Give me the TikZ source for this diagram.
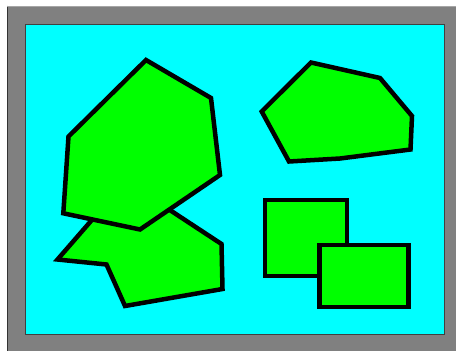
\documentclass[tikz,border=0pt]{standalone}
\begin{document}
\begin{tikzpicture}[x=1pt,y=-1pt,
  greenpoly/.style={fill=shapegreen,draw=black,line width=4.5pt,line join=miter},
]
\definecolor{shapegreen}{RGB}{0,255,0}
\definecolor{panelcyan}{RGB}{0,255,255}
\definecolor{framegray}{RGB}{128,128,128}
\useasboundingbox (0,0) rectangle (456,351);
\fill[white] (0,0) rectangle (456,351);
\fill[framegray] (7,5.5) rectangle (456,351);
\draw[black!80,line width=1.5pt] (7.3,5.5) -- (7.3,351);
\draw[framegray!70,line width=0.8pt] (7,5.9) -- (456,5.9);
\fill[panelcyan] (25,24) rectangle (444,334);
\draw[black!75,line width=1pt] (25,24) rectangle (444,334);
% lower-left polygon (behind)
\path[greenpoly] (57.5,259.5) -- (106.5,264.5) -- (125,306) -- (222.5,289) -- (221.5,244) -- (150,197) -- (100,210.6) -- cycle;
% big hexagon
\path[greenpoly] (146,60) -- (211,98) -- (220,175) -- (140,229.5) -- (63.3,213.3) -- (68.5,136.5) -- cycle;
% upper-right polygon
\path[greenpoly] (311,62.5) -- (380,78) -- (412,116) -- (410.5,149.5) -- (340,158.5) -- (289,161.5) -- (261.7,111.5) -- cycle;
% rectangles
\path[greenpoly] (265,200) rectangle (347,276);
\path[greenpoly] (319.5,245) rectangle (408.5,307);
\end{tikzpicture}
\end{document}
